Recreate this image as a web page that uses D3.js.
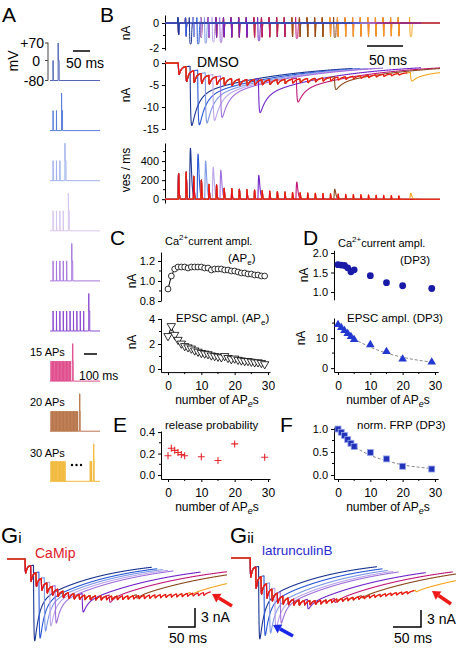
<!DOCTYPE html>
<html><head><meta charset="utf-8">
<script src="https://cdn.jsdelivr.net/npm/d3@7"></script>
<style>
body{margin:0;background:#fff}
svg{display:block}
text{font-family:"Liberation Sans",Arial,Helvetica,sans-serif;fill:#000}
</style></head>
<body><svg id="c" width="456" height="666"></svg>
<script>
// ================= DATA =================
const conditions = [1, 2, 3, 4, 5, 10, 15, 20, 30];   // APe before DP3
const conditionLabels = ["", "", "", "", "", "", "15 APs", "20 APs", "30 APs"];
const apInterval = 10;   // ms
const dpDelay = 15;      // ms after last APe
// panel C (per APe, 0..29)
const apeCa   = [0.92,1.05,1.12,1.14,1.14,1.14,1.13,1.14,1.14,1.14,1.14,1.13,1.13,1.11,1.12,1.12,1.12,1.11,1.11,1.10,1.10,1.09,1.08,1.08,1.07,1.07,1.06,1.06,1.05,1.05];
const apeEpsc = [2.6,3.4,2.7,2.3,2.0,1.8,1.7,1.6,1.45,1.35,1.25,1.2,1.15,1.05,1.0,0.95,0.9,1.0,0.85,0.75,0.8,0.7,0.65,0.6,0.6,0.55,0.5,0.5,0.45,0.35];
const apeRate = [270,285,240,200,155,150,115,112,105,100,95,90,85,80,75,70,68,65,62,60,58,55,52,50,48,45,42,40,38,35];
// panels D, E, F (per number of APe before DP3)
const dpN      = [0, 1, 2, 3, 4, 5, 10, 15, 20, 29];
const dpCa     = [1.70,1.69,1.68,1.62,1.52,1.57,1.42,1.24,1.16,1.09];
const dpEpsc   = [14.5,13.5,12.5,11.5,10.5,9.5,7.8,5.5,3.0,2.0];
const relProb  = [0.18,0.25,0.23,0.21,0.19,0.18,0.17,0.135,0.29,0.165];
const normFrp  = [1.0,0.93,0.86,0.77,0.69,0.62,0.49,0.35,0.19,0.13];
const fitN       = [0, 5, 10, 15, 20, 25, 29];
const dpEpscFit  = [14.0,9.8,7.0,5.0,3.6,2.6,2.0];
const normFrpFit = [1.0,0.63,0.43,0.31,0.22,0.17,0.14];
const dpRate   = [535,475,400,335,305,250,180,105,63];   // per condition
// panel G
const camipApeEpsc = [2.2,2.5,2.2,1.9,1.6,1.4,1.2,1.05,0.95,0.85,0.8,0.75,0.7,0.68,0.65,0.62,0.6,0.6,0.58,0.56,0.55,0.55,0.54,0.53,0.52,0.52,0.5,0.5,0.5,0.5,0.48,0.48,0.47,0.47];
const camipDpEpsc  = [12,10.5,8.5,7.0,6.0,3.0,1.2,0.6,0.4];
const latApeEpsc   = [3.0,3.4,2.8,2.3,1.9,1.6,1.3,1.1,0.95,0.85,0.75,0.7,0.65,0.6,0.55,0.52,0.5,0.48,0.46,0.45,0.44,0.43,0.42,0.42,0.41,0.4,0.4,0.4,0.39,0.38];
const latDpEpsc    = [11.5,9.5,8.0,6.5,5.0,1.6,0.7,0.4,0.3];
// tick labels
const ticksBTop = [0, -2], ticksBMid = [0, -5, -10, -15], ticksBBot = [0, 200, 400];
const ticksC1 = [0.8, 1.0, 1.2], ticksC2 = [0, 2, 4], ticksE = [0, 0.2, 0.4];
const ticksD1 = [1.0, 1.5, 2.0], ticksD2 = [0, 10], ticksF = [0, 0.5, 1.0];
const ticksN = [0, 10, 20, 30];
const ticksMV = [70, 0, -80], ticksMVLabels = ["+70", "0", "-80"];

// ================= STYLE =================
const colorsB = ['#1b3591','#2a58d6','#7d98e6','#bba6ea','#a070dc','#7226c9','#c0187a','#8a4a1e','#f3a51c'];
const colorsA = ['#5266b5','#5a7fd8','#9fb2ea','#d6c6ef','#a877dd','#8c4bd0','#e04d8d','#b8764c','#f2b93b'];
const fillsA  = [null,null,null,null,null,null,'#f5aecb','#dcaa88','#f9d990'];
const RED = '#e8101c';
const FONT = '"Liberation Sans", Arial, Helvetica, sans-serif';

const svg = d3.select('#c');

function text(x, y, s, o = {}) {
  const t = svg.append('text').attr('x', x).attr('y', y).text(s)
    .style('font-size', (o.size || 11) + 'px');
  if (o.anchor) t.attr('text-anchor', o.anchor);
  if (o.fill) t.style('fill', o.fill);
  if (o.rot) t.attr('transform', `rotate(-90,${x},${y})`);
  return t;
}
function richText(x, y, parts, size, anchor) {
  const t = svg.append('text').attr('x', x).attr('y', y).style('font-size', size + 'px');
  if (anchor) t.attr('text-anchor', anchor);
  parts.forEach(p => {
    const ts = t.append('tspan').text(p.t);
    if (p.dy) ts.attr('dy', p.dy);
    if (p.size) ts.style('font-size', p.size + 'px');
    if (p.italic) ts.style('font-style', 'italic');
  });
  return t;
}
function yAxis(scale, x, ticks, minor, fmt) {
  const g = svg.append('g').attr('transform', `translate(${x},0)`)
    .call(d3.axisLeft(scale).tickValues(ticks).tickSize(3).tickSizeOuter(0).tickPadding(3).tickFormat(fmt || (d => String(d))));
  g.attr('font-family', FONT).attr('font-size', 11);
  g.selectAll('text').style('fill', '#000');
  (minor || []).forEach(v => g.append('line').attr('x1', -2).attr('x2', 0).attr('y1', scale(v)).attr('y2', scale(v)).attr('stroke', '#000'));
  return g;
}
function xAxis(scale, y, ticks, minor) {
  const g = svg.append('g').attr('transform', `translate(0,${y})`)
    .call(d3.axisBottom(scale).tickValues(ticks).tickSize(3).tickSizeOuter(0).tickPadding(6).tickFormat(d => String(d)));
  g.attr('font-family', FONT).attr('font-size', 12);
  g.selectAll('text').style('fill', '#000');
  (minor || []).forEach(v => g.append('line').attr('y1', 0).attr('y2', 2).attr('x1', scale(v)).attr('x2', scale(v)).attr('stroke', '#000'));
  return g;
}
function nLabel(x, y) {
  richText(x, y, [{t: 'number of AP'}, {t: 'e', dy: 3, size: 9, italic: true}, {t: 's', dy: -3}], 12, 'middle');
}

// ================= MODEL KERNELS =================
function makeKernel(rise, ff, tf, ts) {
  const f = t => t <= 0 ? 0 : (1 - Math.exp(-t / rise)) * (ff * Math.exp(-t / tf) + (1 - ff) * Math.exp(-t / ts));
  let pk = 0; for (let t = 0; t < 40; t += 0.02) pk = Math.max(pk, f(t));
  return t => f(t) / pk;
}
const kApB = makeKernel(0.4, 0.78, 2.5, 100);
const kApG = makeKernel(0.4, 0.65, 2.5, 200);
const kDp  = makeKernel(0.8, 0.6, 8, 120);
const gauss = (t, m, s) => Math.exp(-0.5 * ((t - m) / s) ** 2);
const sig = x => 1 / (1 + Math.exp(-x));
const alpha = (t, tp, p) => t <= 0 ? 0 : Math.pow((t / tp) * Math.exp(1 - t / tp), p);
const dpIdx = N => dpN.indexOf(Math.min(N, 29));
const dpTime = N => (N - 1) * apInterval + dpDelay;

function epscFn(amps, nAp, dpAmp, tdp, kAp) {
  return t => {
    let s = 0;
    for (let i = 0; i < nAp; i++) { const u = t - i * apInterval - 0.6; if (u > 0) s += amps[i] * kAp(u); }
    if (dpAmp != null) { const u = t - tdp - 1.0; if (u > 0) s += dpAmp * kDp(u); }
    return -s;
  };
}
function caFn(nAp, dpAmp, tdp) {
  return t => {
    let s = 0;
    for (let i = 0; i < nAp; i++) { const u = t - i * apInterval; if (u > -2 && u < 4) s += 0.45 * gauss(u, 0, 0.2) - apeCa[i] * gauss(u, 0.9, 0.3); }
    if (dpAmp != null) { const u = t - tdp; if (u > -2 && u < 6) s += 0.55 * gauss(u, 0, 0.2) - dpAmp * sig((u - 0.4) / 0.15) * sig((3.0 - u) / 0.15) - 0.25 * dpAmp * gauss(u, 3.3, 0.3); }
    return s;
  };
}
function rateFn(nAp, dpR, tdp) {
  return t => {
    let s = 0;
    for (let i = 0; i < nAp; i++) { const u = t - i * apInterval - 0.3; if (u > 0 && u < 8) s += apeRate[i] * alpha(u, 0.6, 2); }
    if (dpR != null) { const u = t - tdp - 0.3; if (u > 0) s += dpR * alpha(u, 1.2, 1.5); }
    return s;
  };
}
function sample(t0, t1, dt, f) { const p = []; for (let t = t0; t <= t1 + 1e-9; t += dt) p.push([t, f(t)]); return p; }
function drawTrace(pts, xs, ys, color, w) {
  svg.append('path').attr('d', d3.line().x(d => xs(d[0])).y(d => ys(d[1]))(pts))
    .attr('fill', 'none').attr('stroke', color).attr('stroke-width', w || 1).attr('stroke-linejoin', 'round');
}

// ================= PANEL A =================
text(2, 22, 'A', {size: 21});
const aBase = k => 80.5 + 50.1 * k;
const yV = (v, k) => aBase(k) - (v + 80) * 0.25;
svg.append('line').attr('x1', 48).attr('x2', 48).attr('y1', yV(72, 0)).attr('y2', yV(-80, 0)).attr('stroke', '#444');
ticksMV.forEach((v, i) => {
  svg.append('line').attr('x1', 45).attr('x2', 48).attr('y1', yV(v, 0)).attr('y2', yV(v, 0)).attr('stroke', '#444');
  text(v === 0 ? 40 : 44, yV(v, 0) + 5, ticksMVLabels[i], {size: 14, anchor: 'end'});
});
text(18, 61, 'mV', {size: 14, anchor: 'middle', rot: true});
svg.append('line').attr('x1', 73).attr('x2', 90).attr('y1', 51).attr('y2', 51).attr('stroke', '#000').attr('stroke-width', 1.5);
text(66, 68, '50 ms', {size: 14});
svg.append('line').attr('x1', 84).attr('x2', 97).attr('y1', 354).attr('y2', 354).attr('stroke', '#000').attr('stroke-width', 1.5);
text(79, 380, '100 ms', {size: 12});

conditions.forEach((N, k) => {
  const xA = k < 6 ? (t => 53 + 0.34 * t) : (t => 51 + 0.14 * t);
  const base = aBase(k), tdp = dpTime(N);
  const show = i => !(N === 30 && i > 10 && i < 28);
  if (fillsA[k]) {
    const blocks = N === 30 ? [[0, 10], [28, 29]] : [[0, N - 1]];
    blocks.forEach(b => svg.append('rect').attr('x', xA(b[0] * apInterval)).attr('y', yV(0, k))
      .attr('width', xA(b[1] * apInterval + 1) - xA(b[0] * apInterval)).attr('height', base - yV(0, k)).attr('fill', fillsA[k]));
  }
  let d = `M50,${base}`;
  for (let i = 0; i < N; i++) {
    if (!show(i)) continue;
    const t = i * apInterval;
    d += `L${xA(t)},${base}L${xA(t + 0.2)},${yV(0, k)}L${xA(t + 0.8)},${base}`;
  }
  d += `L${xA(tdp)},${base}L${xA(tdp + 0.2)},${yV(70, k)}L${xA(tdp + 0.6)},${yV(0, k)}L${xA(tdp + 3)},${yV(0, k)}L${xA(tdp + 3.2)},${base}L100,${base}`;
  svg.append('path').attr('d', d).attr('fill', 'none').attr('stroke', colorsA[k]).attr('stroke-width', 1);
  if (conditionLabels[k]) text(30, yV(35, k) + 4, conditionLabels[k], {size: 11});
  if (N === 30) [72, 76.5, 81].forEach(x => svg.append('circle').attr('cx', x).attr('cy', 465).attr('r', 1.2).attr('fill', '#000'));
});

// ================= PANEL B =================
text(100, 22, 'B', {size: 21});
const tB0 = -17, tB1 = 345;
const xB = d3.scaleLinear().domain([tB0, tB1]).range([165, 440]);
const yBt = d3.scaleLinear().domain([-2.16, 0.64]).range([50, 15]);
const yBm = d3.scaleLinear().domain([-15.1, 0.7]).range([129.4, 60]);
const yBb = d3.scaleLinear().domain([-40, 590]).range([203, 143]);
yAxis(yBt, 165, ticksBTop, [-1]);
yAxis(yBm, 165, ticksBMid, []);
yAxis(yBb, 165, ticksBBot, [100, 300, 500]);
text(130, 33, 'nA', {size: 12, anchor: 'middle', rot: true});
text(130, 95, 'nA', {size: 12, anchor: 'middle', rot: true});
text(130, 170, 'ves / ms', {size: 12, anchor: 'middle', rot: true});
text(197, 67, 'DMSO', {size: 14});
svg.append('line').attr('x1', 367).attr('x2', 403).attr('y1', 46).attr('y2', 46).attr('stroke', '#000').attr('stroke-width', 1.5);
text(369, 65, '50 ms', {size: 14});

// Ca currents: red underneath, then longest trains first, shortest on top
{
  const nR = apeEpsc.length;
  drawTrace(sample(tB0, tB1, 0.1, caFn(nR, null, 0)), xB, yBt, RED);
}
conditions.slice().reverse().forEach((N) => {
  const k = conditions.indexOf(N);
  const tdp = dpTime(N), end = Math.min(tdp + 215, tB1), di = dpIdx(N);
  drawTrace(sample(tB0, end, 0.1, caFn(N, dpCa[di], tdp)), xB, yBt, colorsB[k]);
});
conditions.forEach((N, k) => {
  const tdp = dpTime(N), end = Math.min(tdp + 215, tB1), di = dpIdx(N);
  drawTrace(sample(tB0, end, 0.1, epscFn(apeEpsc, N, dpEpsc[di], tdp, kApB)), xB, yBm, colorsB[k], 1.1);
  drawTrace(sample(tB0, end, 0.1, rateFn(N, dpRate[k], tdp)), xB, yBb, colorsB[k], 1.1);
});
{
  const nR = apeEpsc.length, end = (nR - 1) * apInterval + 12;
  drawTrace(sample(tB0, end, 0.1, epscFn(apeEpsc, nR, null, 0, kApB)), xB, yBm, RED, 1.1);
  drawTrace(sample(tB0, tB1, 0.1, rateFn(nR, null, 0)), xB, yBb, RED, 1.1);
}

// ================= PANEL C / E =================
text(110, 245, 'C', {size: 21});
const xC = d3.scaleLinear().domain([-2.1, 30.6]).range([161, 270]);
const yC1 = d3.scaleLinear().domain([0.8, 1.29]).range([301, 252]);
const yC2 = d3.scaleLinear().domain([-0.25, 4.05]).range([372.1, 318.4]);
const yE  = d3.scaleLinear().domain([-0.037, 0.41]).range([479, 431]);
yAxis(yC1, 161, ticksC1, [0.9, 1.1], d3.format('.1f'));
yAxis(yC2, 161, ticksC2, [1, 3]);
xAxis(xC, 372.1, ticksN, [5, 15, 25]);
yAxis(yE, 161, ticksE, [0.1, 0.3], d3.format('.1f'));
xAxis(xC, 479, ticksN, [5, 15, 25]);
text(136, 281, 'nA', {size: 12, anchor: 'middle', rot: true});
text(136, 342, 'nA', {size: 12, anchor: 'middle', rot: true});
richText(165, 245, [{t: 'Ca'}, {t: '2+', dy: -5, size: 8}, {t: 'current ampl.', dy: 5}], 11);
richText(228, 262, [{t: '(AP'}, {t: 'e', dy: 3, size: 8}, {t: ')', dy: -3}], 11.5);
richText(176, 322, [{t: 'EPSC ampl. (AP'}, {t: 'e', dy: 3, size: 8}, {t: ')', dy: -3}], 11.5);
nLabel(217, 404);
text(165, 429, 'release probability', {size: 11.5});
nLabel(217, 511);
svg.append('path').attr('d', d3.line().x((d, i) => xC(i)).y(d => yC1(d))(apeCa)).attr('fill', 'none').attr('stroke', '#000').attr('stroke-width', 1);
apeCa.forEach((v, i) => svg.append('circle').attr('cx', xC(i)).attr('cy', yC1(v)).attr('r', 2.9).attr('fill', '#fff').attr('stroke', '#000').attr('stroke-width', 0.8));
svg.append('path').attr('d', d3.line().x((d, i) => xC(i)).y(d => yC2(d))(apeEpsc)).attr('fill', 'none').attr('stroke', '#000').attr('stroke-width', 1);
const triDown = d3.symbol().type(d3.symbolTriangle).size(30)();
apeEpsc.forEach((v, i) => svg.append('path').attr('d', triDown).attr('transform', `translate(${xC(i)},${yC2(v) - 0.5}) rotate(180)`)
  .attr('fill', '#fff').attr('stroke', '#000').attr('stroke-width', 0.8));
text(113, 432, 'E', {size: 21});
relProb.forEach((v, i) => svg.append('path').attr('d', 'M-3.5,0H3.5M0,-3.5V3.5').attr('transform', `translate(${xC(dpN[i])},${yE(v)})`)
  .attr('stroke', '#e3282e').attr('stroke-width', 1.1));

// ================= PANEL D / F =================
text(303, 245, 'D', {size: 21});
text(280, 432, 'F', {size: 21});
const xD = d3.scaleLinear().domain([-1.24, 31]).range([334, 438.2]);
const yD1 = d3.scaleLinear().domain([0.8, 2.07]).range([299.8, 250.3]);
const yD2 = d3.scaleLinear().domain([-1.3, 16.7]).range([372, 318]);
const yF  = d3.scaleLinear().domain([-0.087, 1.04]).range([479, 427.2]);
yAxis(yD1, 334, ticksD1, [], d3.format('.1f'));
yAxis(yD2, 334, ticksD2, [5, 15]);
xAxis(xD, 372, ticksN, [5, 15, 25]);
yAxis(yF, 334, ticksF, [0.25, 0.75], d3.format('.1f'));
xAxis(xD, 479, ticksN, [5, 15, 25]);
text(308, 275, 'nA', {size: 12, anchor: 'middle', rot: true});
text(305, 338, 'nA', {size: 12, anchor: 'middle', rot: true});
richText(338, 247, [{t: 'Ca'}, {t: '2+', dy: -5, size: 8}, {t: 'current ampl.', dy: 5}], 11);
text(400, 264, '(DP3)', {size: 11.5});
text(347, 322, 'EPSC ampl. (DP3)', {size: 11.5});
nLabel(388, 404);
text(357, 429, 'norm. FRP (DP3)', {size: 11.5});
nLabel(388, 511);
dpCa.forEach((v, i) => svg.append('circle').attr('cx', xD(dpN[i])).attr('cy', yD1(v)).attr('r', 3.4).attr('fill', '#1a1aa8'));
const fitLine = d3.line().curve(d3.curveMonotoneX);
svg.append('path').attr('d', fitLine(fitN.map((n, i) => [xD(n), yD2(dpEpscFit[i])]))).attr('fill', 'none')
  .attr('stroke', '#888').attr('stroke-width', 1).attr('stroke-dasharray', '3,2');
const triUp = d3.symbol().type(d3.symbolTriangle).size(32)();
dpEpsc.forEach((v, i) => svg.append('path').attr('d', triUp).attr('transform', `translate(${xD(dpN[i])},${yD2(v)})`).attr('fill', '#2238d0'));
svg.append('path').attr('d', fitLine(fitN.map((n, i) => [xD(n), yF(normFrpFit[i])]))).attr('fill', 'none')
  .attr('stroke', '#888').attr('stroke-width', 1).attr('stroke-dasharray', '3,2');
normFrp.forEach((v, i) => svg.append('rect').attr('x', xD(dpN[i]) - 3).attr('y', yF(v) - 3).attr('width', 6).attr('height', 6)
  .attr('fill', '#2233b8').attr('stroke', '#9aa8f0').attr('stroke-width', 0.8));

// ================= PANEL G =================
function gPanel(opt) {
  const xs = d3.scaleLinear().domain([opt.t0, opt.t1]).range([opt.x0, opt.x1]);
  const ys = d3.scaleLinear().domain([0, -10]).range([opt.y0, opt.y0 + 63]);
  conditions.forEach((N, k) => {
    const tdp = dpTime(N), end = Math.min(tdp + 220, opt.t1);
    drawTrace(sample(opt.t0, end, 0.2, epscFn(opt.ape, Math.min(N, opt.ape.length), opt.dp[k], tdp, kApG)), xs, ys, colorsB[k], 1.1);
  });
  const nR = opt.ape.length;
  drawTrace(sample(opt.t0, (nR - 1) * apInterval + 14, 0.2, epscFn(opt.ape, nR, null, 0, kApG)), xs, ys, RED, 1.2);
}
function arrow(x1, y1, x2, y2, color) {
  const a = Math.atan2(y2 - y1, x2 - x1), L = 8, W = 5;
  const bx = x2 - L * Math.cos(a), by = y2 - L * Math.sin(a);
  svg.append('line').attr('x1', x1).attr('y1', y1).attr('x2', bx).attr('y2', by).attr('stroke', color).attr('stroke-width', 3.5);
  svg.append('path').attr('d', `M${x2},${y2}L${bx + W * Math.sin(a)},${by - W * Math.cos(a)}L${bx - W * Math.sin(a)},${by + W * Math.cos(a)}Z`).attr('fill', color);
}
function scaleBar(xv, yTop, yBot, xl) {
  svg.append('path').attr('d', `M${xv},${yTop}V${yBot}H${xl}`).attr('fill', 'none').attr('stroke', '#000').attr('stroke-width', 1.5);
  text(xv + 6, yTop + 14, '3 nA', {size: 14});
  text(xl + 1, yBot + 16, '50 ms', {size: 14});
}
richText(1, 543, [{t: 'G', size: 22}, {t: 'i', size: 15}], 22);
richText(230, 543, [{t: 'G', size: 22}, {t: 'ii', size: 15}], 22);
text(35, 558, 'CaMip', {size: 14, fill: '#e02028'});
text(262, 555, 'latrunculinB', {size: 13.5, fill: '#2a2ad0'});
gPanel({t0: -33, t1: 374, x0: 7, x1: 227, y0: 559, ape: camipApeEpsc, dp: camipDpEpsc});
gPanel({t0: -35, t1: 381, x0: 231, x1: 456, y0: 558, ape: latApeEpsc, dp: latDpEpsc});
scaleBar(195, 608, 627, 168);
scaleBar(421, 610, 627, 393);
arrow(232, 606, 212, 594, '#ee1a1a');
arrow(451, 604, 432, 591, '#ee1a1a');
arrow(293, 636, 273, 625, '#1a2ae6');
</script></body></html>
